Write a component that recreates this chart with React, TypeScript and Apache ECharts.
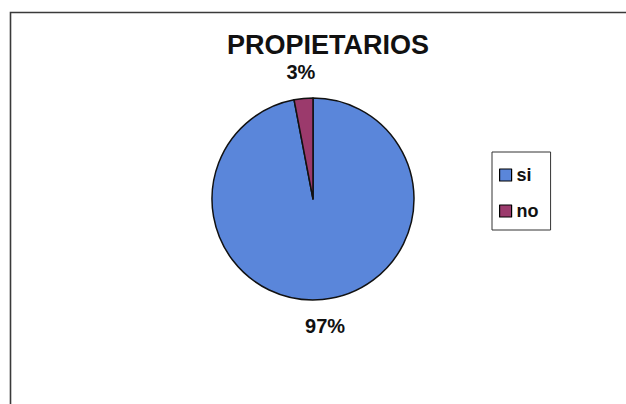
import React, { useEffect, useRef } from "react";
import * as echarts from "echarts";

const titleText = "PROPIETARIOS";
const categories = ["si", "no"];
const values = [97, 3];
const colors = ["#5a86da", "#9b3a6c"];

export default function App() {
  const ref = useRef<HTMLDivElement>(null);
  useEffect(() => {
    document.body.style.margin = "0";
    const chart = echarts.init(ref.current!, null, { renderer: "svg" });
    const data = categories.map((name, i) => ({ name, value: values[i] }));
    chart.setOption({
      animation: false,
      backgroundColor: "#ffffff",
      color: colors,
      textStyle: { fontFamily: "Liberation Sans, Arial, sans-serif" },
      graphic: [
        {
          type: "rect",
          silent: true,
          shape: { x: 10.5, y: 12.5, width: 700, height: 500 },
          style: { fill: "none", stroke: "#3a3a3a", lineWidth: 1.6 },
        },
      ],
      title: {
        text: titleText,
        left: 323,
        top: 26,
        textAlign: "center",
        textStyle: {
          fontFamily: "Liberation Sans, Arial, sans-serif",
          fontWeight: "bold",
          fontSize: 27,
          color: "#111",
        },
      },
      legend: {
        orient: "vertical",
        left: 492,
        top: 152,
        data: categories,
        icon: "rect",
        itemWidth: 12,
        itemHeight: 12,
        itemGap: 18,
        padding: [14, 12, 10, 7],
        borderColor: "#333",
        borderWidth: 1,
        itemStyle: { borderColor: "#000", borderWidth: 1.2 },
        textStyle: {
          fontFamily: "Liberation Sans, Arial, sans-serif",
          fontWeight: "bold",
          fontSize: 18,
          color: "#111",
        },
      },
      series: [
        {
          type: "pie",
          center: [313, 199],
          radius: [0, 101],
          startAngle: 90,
          clockwise: true,
          data,
          label: { show: false },
          labelLine: { show: false },
          itemStyle: { borderColor: "#111", borderWidth: 1.5 },
          emphasis: { disabled: true },
          silent: true,
        },
        {
          type: "pie",
          center: [313, 199],
          radius: [110, 140],
          startAngle: 90,
          clockwise: true,
          data,
          itemStyle: { color: "transparent", borderWidth: 0 },
          label: {
            show: true,
            position: "inside",
            formatter: "{d}%",
            fontFamily: "Liberation Sans, Arial, sans-serif",
            fontWeight: "bold",
            fontSize: 20,
            color: "#111",
          },
          labelLine: { show: false },
          emphasis: { disabled: true },
          silent: true,
          legendHoverLink: false,
        },
      ],
    });
    return () => chart.dispose();
  }, []);
  return <div ref={ref} style={{ width: 626, height: 404 }} />;
}
